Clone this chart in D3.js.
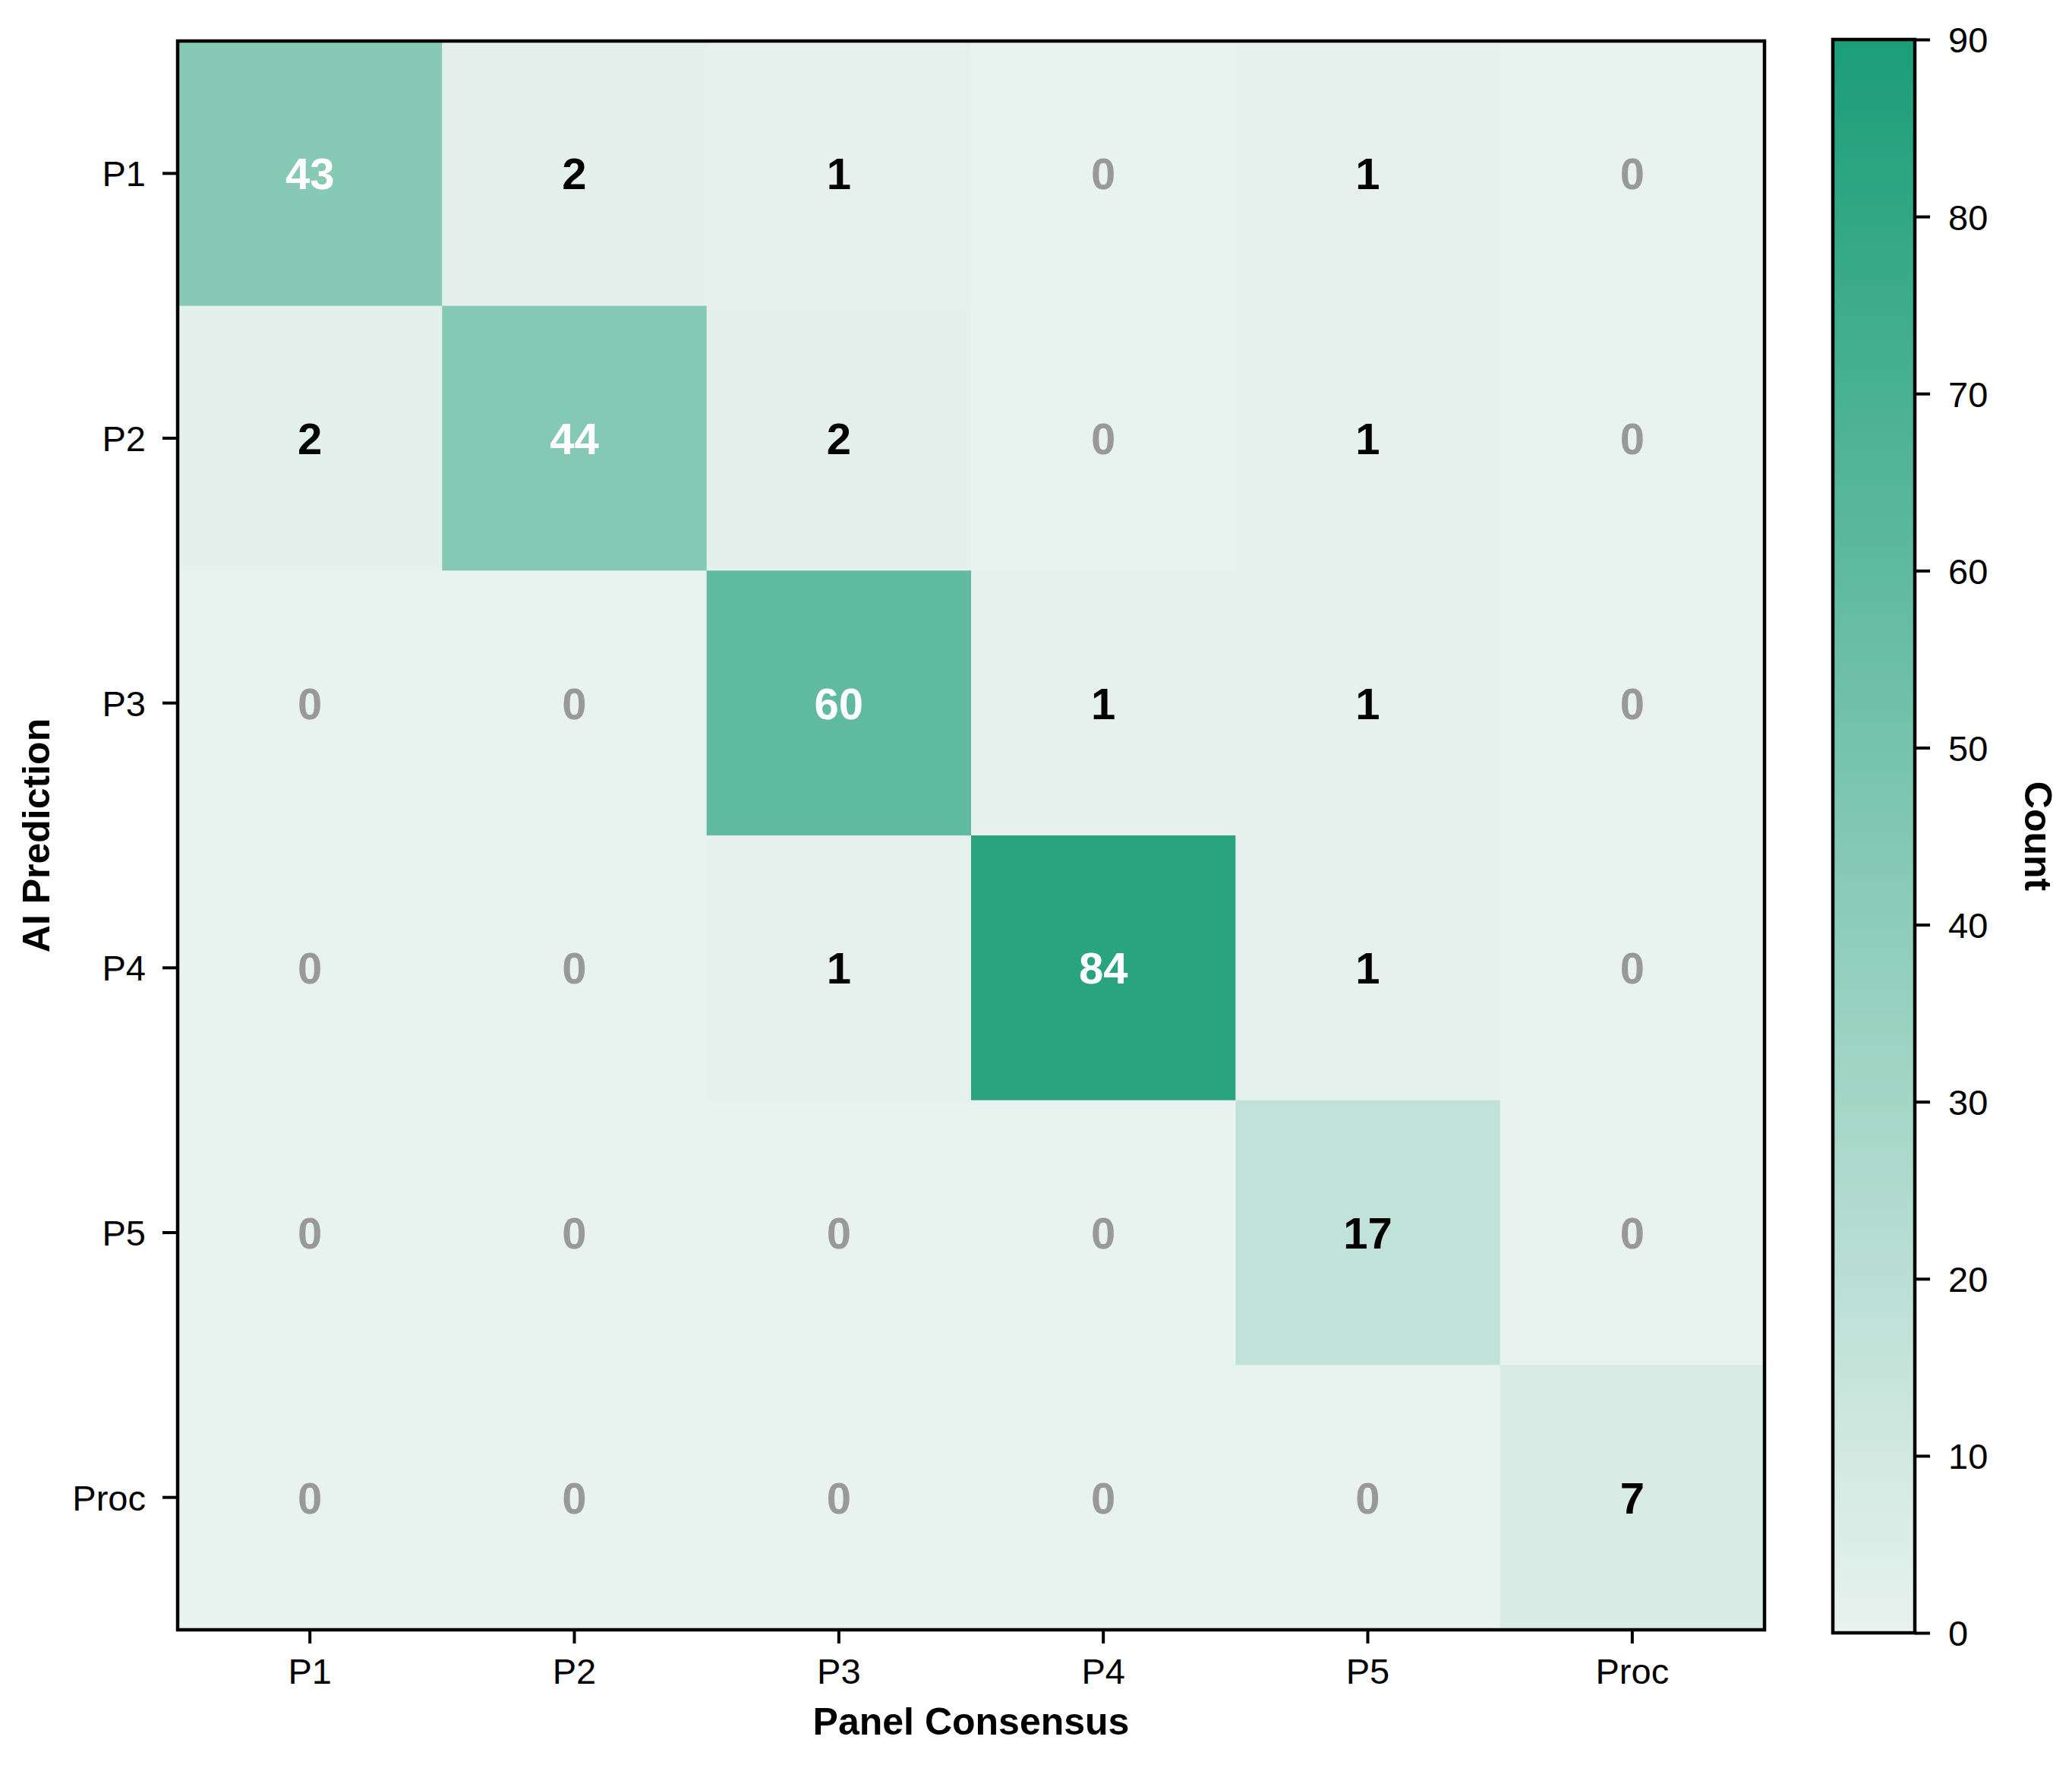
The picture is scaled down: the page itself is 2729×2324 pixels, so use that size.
<!DOCTYPE html>
<html>
<head>
<meta charset="utf-8">
<script src="https://cdn.jsdelivr.net/npm/d3@7"></script>
<style>
  body { margin: 0; background: #fff; }
  text { font-family: "Liberation Sans", Arial, sans-serif; }
</style>
</head>
<body>
<div class="container"></div>
<script>
// confusion matrix: rows = AI prediction, columns = panel consensus
var classes = ['P1', 'P2', 'P3', 'P4', 'P5', 'Proc'];
var rowP1 = [43, 2, 1, 0, 1, 0];
var rowP2 = [2, 44, 2, 0, 1, 0];
var rowP3 = [0, 0, 60, 1, 1, 0];
var rowP4 = [0, 0, 1, 84, 1, 0];
var rowP5 = [0, 0, 0, 0, 17, 0];
var rowProc = [0, 0, 0, 0, 0, 7];
var colorbarTicks = [0, 10, 20, 30, 40, 50, 60, 70, 80, 90];

const WIDTH = 2729;
const HEIGHT = 2324;
const AX_LEFT = 234, AX_RIGHT = 2324, AX_TOP = 54, AX_BOTTOM = 2146;
const CB_LEFT = 2414, CB_RIGHT = 2522, CB_TOP = 52, CB_BOTTOM = 2150;

var matrix = [rowP1, rowP2, rowP3, rowP4, rowP5, rowProc];
var cells = [];
matrix.forEach(function (row, i) {
    row.forEach(function (v, j) {
        cells.push({ pred: classes[i], truth: classes[j], value: v });
    });
});

var svg = d3.select('.container').append('svg')
    .attr('width', WIDTH)
    .attr('height', HEIGHT);

var xScale = d3.scaleBand().domain(classes).range([AX_LEFT, AX_RIGHT]);
var yScale = d3.scaleBand().domain(classes).range([AX_TOP, AX_BOTTOM]);
var colorScale = d3.scaleLinear().domain([0, 90]).range(['#e8f2ee', '#1b9e77']);

svg.append('g').selectAll('rect')
    .data(cells)
    .enter().append('rect')
    .attr('x', function (d) { return xScale(d.truth); })
    .attr('y', function (d) { return yScale(d.pred); })
    .attr('width', xScale.bandwidth() + 0.5)
    .attr('height', yScale.bandwidth() + 0.5)
    .attr('fill', function (d) { return colorScale(d.value); });

svg.append('g').selectAll('text')
    .data(cells)
    .enter().append('text')
    .attr('x', function (d) { return xScale(d.truth) + xScale.bandwidth() / 2; })
    .attr('y', function (d) { return yScale(d.pred) + yScale.bandwidth() / 2; })
    .attr('dy', '0.36em')
    .attr('text-anchor', 'middle')
    .style('font-size', '58px')
    .style('font-weight', 'bold')
    .attr('fill', function (d) {
        if (d.value === 0) return '#999999';
        return d.value > 40 ? '#ffffff' : '#000000';
    })
    .text(function (d) { return d.value; });

// axes
var xAxis = svg.append('g')
    .attr('transform', 'translate(0,' + AX_BOTTOM + ')')
    .call(d3.axisBottom(xScale).tickSize(18).tickPadding(20));
var yAxis = svg.append('g')
    .attr('transform', 'translate(' + AX_LEFT + ',0)')
    .call(d3.axisLeft(yScale).tickSize(20).tickPadding(22));
[xAxis, yAxis].forEach(function (ax) {
    ax.select('.domain').remove();
    ax.selectAll('line').attr('stroke', '#000').attr('stroke-width', 4);
    ax.selectAll('text').attr('fill', '#000').style('font-size', '47px');
});
yAxis.selectAll('text').attr('dy', '0.36em');

svg.append('rect')
    .attr('x', AX_LEFT).attr('y', AX_TOP)
    .attr('width', AX_RIGHT - AX_LEFT).attr('height', AX_BOTTOM - AX_TOP)
    .attr('fill', 'none').attr('stroke', '#000').attr('stroke-width', 4.5);

svg.append('text')
    .attr('x', (AX_LEFT + AX_RIGHT) / 2)
    .attr('y', 2284)
    .attr('text-anchor', 'middle')
    .style('font-size', '50px').style('font-weight', 'bold')
    .text('Panel Consensus');

svg.append('text')
    .attr('transform', 'translate(65,' + (AX_TOP + AX_BOTTOM) / 2 + ') rotate(-90)')
    .attr('text-anchor', 'middle')
    .style('font-size', '50px').style('font-weight', 'bold')
    .text('AI Prediction');

// colorbar
var cbScale = d3.scaleLinear().domain([0, 90]).range([CB_BOTTOM, CB_TOP]);
var grad = svg.append('defs').append('linearGradient')
    .attr('id', 'cbgrad')
    .attr('x1', 0).attr('y1', 1).attr('x2', 0).attr('y2', 0);
grad.selectAll('stop')
    .data(colorbarTicks)
    .enter().append('stop')
    .attr('offset', function (d) { return d / 90; })
    .attr('stop-color', function (d) { return colorScale(d); });

svg.append('rect')
    .attr('x', CB_LEFT).attr('y', CB_TOP)
    .attr('width', CB_RIGHT - CB_LEFT).attr('height', CB_BOTTOM - CB_TOP)
    .attr('fill', 'url(#cbgrad)')
    .attr('stroke', '#000').attr('stroke-width', 4.5);

var cbAxis = svg.append('g')
    .attr('transform', 'translate(' + CB_RIGHT + ',0)')
    .call(d3.axisRight(cbScale).tickValues(colorbarTicks).tickSize(20).tickPadding(24));
cbAxis.select('.domain').remove();
cbAxis.selectAll('line').attr('stroke', '#000').attr('stroke-width', 4);
cbAxis.selectAll('text').attr('fill', '#000').attr('dy', '0.36em').style('font-size', '47px');

svg.append('text')
    .attr('transform', 'translate(2667,' + (CB_TOP + CB_BOTTOM) / 2 + ') rotate(90)')
    .attr('text-anchor', 'middle')
    .style('font-size', '50px').style('font-weight', 'bold')
    .text('Count');
</script>
</body>
</html>
